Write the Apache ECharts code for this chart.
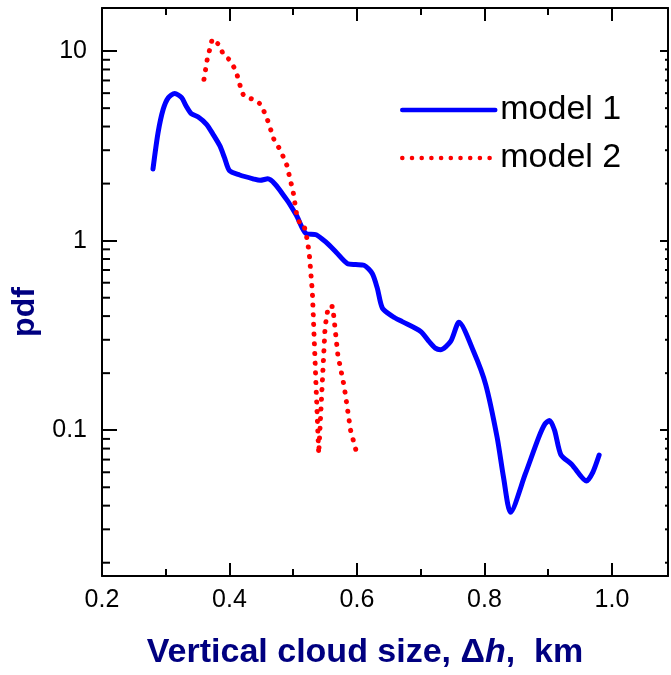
<!DOCTYPE html>
<html>
<head>
<meta charset="utf-8">
<script src="https://cdn.jsdelivr.net/npm/echarts@6/dist/echarts.min.js"></script>
<style>
html,body{margin:0;padding:0;background:#fff;}
#chart{width:671px;height:675px;}
</style>
</head>
<body>
<div id="chart"></div>
<script>
// ---- data ----
const model1X = [0.28,0.288,0.296,0.304,0.314,0.325,0.332,0.340,0.351,0.364,0.374,0.385,0.392,0.400,0.416,0.437,0.448,0.460,0.489,0.505,0.520,0.536,0.551,0.567,0.585,0.598,0.611,0.624,0.632,0.640,0.656,0.671,0.700,0.713,0.723,0.731,0.747,0.760,0.783,0.802,0.820,0.830,0.841,0.864,0.885,0.895,0.902,0.910,0.920,0.937,0.960,0.970,0.980];
const model1Y = [2.39,3.72,4.93,5.68,5.98,5.68,5.13,4.68,4.49,4.11,3.65,3.16,2.75,2.34,2.22,2.12,2.08,2.12,1.66,1.36,1.09,1.075,0.984,0.872,0.757,0.748,0.742,0.671,0.56,0.44,0.398,0.374,0.332,0.294,0.271,0.266,0.294,0.371,0.26,0.174,0.0914,0.0563,0.0369,0.0586,0.0914,0.108,0.1127,0.1,0.0741,0.066,0.054,0.06,0.074];
const model2X = [0.360,0.365,0.373,0.385,0.390,0.400,0.410,0.420,0.425,0.440,0.450,0.460,0.470,0.480,0.490,0.500,0.505,0.510,0.516,0.520,0.525,0.530,0.540,0.550,0.555,0.562,0.570,0.580,0.590,0.600];
const model2Y = [7.1,9.0,11.6,10.7,9.6,9.0,7.9,6.0,5.7,5.55,5.2,4.3,3.4,3.0,2.5,1.8,1.4,1.24,1.23,1.1,0.87,0.54,0.075,0.35,0.45,0.45,0.25,0.17,0.1,0.075];
const seriesNames = ['model 1','model 2'];
const yMajorTicks = [0.1, 1, 10];
const yMajorLabels = ['0.1', '1', '10'];
const yMinorTicks = [0.02,0.03,0.04,0.05,0.06,0.07,0.08,0.09,0.2,0.3,0.4,0.5,0.6,0.7,0.8,0.9,2,3,4,5,6,7,8,9];
const xTickValues = [0.2,0.4,0.6,0.8,1.0];
const xTickLabels = ['0.2','0.4','0.6','0.8','1.0'];

const FONT = "'Liberation Sans', Arial, sans-serif";
const NAVY = '#000080';
const BLUE = '#0000ff';
const RED = '#ff0000';
const RED_DOTS = [0.1, 9.6];

function zip(a, b) { return a.map((v, i) => [v, b[i]]); }

const chart = echarts.init(document.getElementById('chart'), null, {renderer: 'canvas'});

const xCommon = {
  type: 'value', min: 0.2, max: 1.088, interval: 0.2,
  axisLine: {show: true, onZero: false, lineStyle: {color: '#000', width: 2}},
  axisTick: {show: true, inside: true, length: 13, lineStyle: {color: '#000', width: 2}},
  minorTick: {show: true, splitNumber: 2, length: 7, lineStyle: {color: '#000', width: 2}},
  splitLine: {show: false}, minorSplitLine: {show: false}
};
const yCommon = {
  type: 'log', logBase: 10, min: 0.01702, max: 16.88,
  axisLine: {show: true, onZero: false, lineStyle: {color: '#000', width: 2}},
  splitLine: {show: false}, minorSplitLine: {show: false}
};

function yLabel(v) {
  for (let i = 0; i < yMajorTicks.length; i++) {
    if (Math.abs(Math.log10(v) - Math.log10(yMajorTicks[i])) < 1e-6) return yMajorLabels[i];
  }
  return '';
}
function xLabel(v) {
  for (let i = 0; i < xTickValues.length; i++) {
    if (Math.abs(v - xTickValues[i]) < 1e-6) return xTickLabels[i];
  }
  return '';
}

chart.setOption({
  animation: false,
  backgroundColor: '#fff',
  grid: {left: 102, right: 1, top: 8, bottom: 95, containLabel: false},
  legend: {
    orient: 'vertical', left: 395, top: 88, itemGap: 14, itemWidth: 93, itemHeight: 14, itemTextGap: 8,
    itemStyle: {opacity: 0},
    data: [
      {name: seriesNames[0], lineStyle: {color: BLUE, width: 4.5, type: 'solid', cap: 'round'}},
      {name: seriesNames[1], lineStyle: {color: RED, width: 4.5, type: RED_DOTS, cap: 'round'}}
    ],
    textStyle: {fontFamily: FONT, fontSize: 34, color: '#000'}
  },
  xAxis: [
    Object.assign({}, xCommon, {
      position: 'bottom',
      axisLabel: {show: true, margin: 12, fontFamily: FONT, fontSize: 25, color: '#000', formatter: xLabel},
      name: 'Vertical cloud size, Δ{i|h},  km', nameLocation: 'middle', nameGap: 60,
      nameTextStyle: {fontFamily: FONT, fontSize: 34, fontWeight: 'bold', color: NAVY, padding: [0, 40, 0, 0],
        rich: {i: {fontFamily: FONT, fontSize: 34, fontWeight: 'bold', fontStyle: 'italic', color: NAVY}}}
    }),
    Object.assign({}, xCommon, {position: 'top', axisLabel: {show: false}})
  ],
  yAxis: [
    Object.assign({}, yCommon, {
      position: 'left',
      axisTick: {show: true, inside: true, length: 15, lineStyle: {color: '#000', width: 2}},
      axisLabel: {show: true, margin: 15, fontFamily: FONT, fontSize: 25, color: '#000', formatter: yLabel, showMinLabel: false, showMaxLabel: false},
      name: 'pdf', nameLocation: 'middle', nameGap: 57, nameRotate: 90,
      nameTextStyle: {fontFamily: FONT, fontSize: 32, fontWeight: 'bold', color: NAVY, padding: [0, 40, 0, 0]}
    }),
    Object.assign({}, yCommon, {
      position: 'right',
      axisTick: {show: true, inside: true, length: 8, lineStyle: {color: '#000', width: 2}},
      axisLabel: {show: false}
    })
  ],
  series: [
    {
      name: seriesNames[0], type: 'line', xAxisIndex: 0, yAxisIndex: 0,
      data: zip(model1X, model1Y), showSymbol: false, symbol: 'none', smooth: 0.25,
      lineStyle: {color: BLUE, width: 5, cap: 'round', join: 'round'},
      itemStyle: {color: BLUE}, z: 3
    },
    {
      name: seriesNames[1], type: 'line', xAxisIndex: 0, yAxisIndex: 0,
      data: zip(model2X, model2Y), showSymbol: false, symbol: 'none',
      lineStyle: {color: RED, width: 5, type: RED_DOTS, cap: 'round', join: 'round'},
      itemStyle: {color: RED}, z: 4
    },
    {
      name: 'minorY', type: 'custom', xAxisIndex: 0, yAxisIndex: 0, silent: true, clip: false,
      data: yMinorTicks.map(v => [0.2, v]),
      renderItem: function (params, api) {
        const p = api.coord([api.value(0), api.value(1)]);
        const cs = params.coordSys;
        const st = {stroke: '#000', lineWidth: 2};
        return {type: 'group', children: [
          {type: 'line', shape: {x1: cs.x, y1: p[1], x2: cs.x + 8, y2: p[1]}, style: st},
          {type: 'line', shape: {x1: cs.x + cs.width - 3, y1: p[1], x2: cs.x + cs.width, y2: p[1]}, style: st}
        ]};
      },
      z: 2
    }
  ]
});
</script>
</body>
</html>
